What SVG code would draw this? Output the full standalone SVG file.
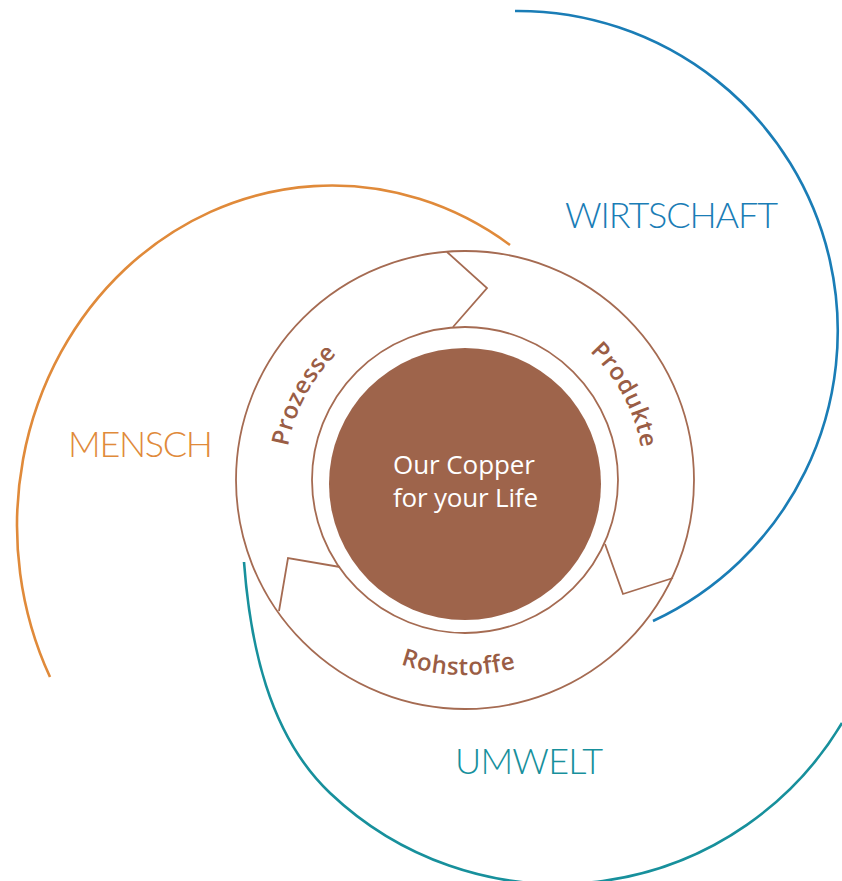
<svg xmlns="http://www.w3.org/2000/svg" xmlns:xlink="http://www.w3.org/1999/xlink" width="842" height="881" viewBox="0 0 842 881">
  <style>
    .arc { fill: none; stroke-width: 2.6; stroke-linecap: butt; }
    .ringline { fill: none; stroke: #a56b52; stroke-width: 1.8; stroke-linejoin: miter; }
    .big { font-family: Lato, "Open Sans", "Liberation Sans", sans-serif; font-weight: 300; font-size: 36px; }
    .ringlabel { font-family: "Open Sans", "Liberation Sans", sans-serif; font-weight: 600; font-size: 24px; letter-spacing: 0.6px; fill: #9a5d45; }
    .core { font-family: "Open Sans", "Liberation Sans", sans-serif; font-size: 26px; fill: #ffffff; }
  </style>
  <defs>
    <path id="pProzesse" d="M313.2,576.9 A179,179 0 0 1 458.8,301.1"/>
    <path id="pProdukte" d="M471.2,301.1 A179,179 0 0 1 616.8,574.9"/>
    <path id="pRohstoffe" d="M292.8,571.5 A195,195 0 0 0 630.4,583.3"/>
  </defs>
  <rect width="842" height="881" fill="#ffffff"/>

  <g id="mensch">
    <path class="arc" stroke="#e08a3a" d="M510,245 A315,340 0 0 0 50,677"/>
    <text class="big" x="68" y="457" textLength="145" fill="#e08a3a">MENSCH</text>
  </g>

  <g id="wirtschaft">
    <path class="arc" stroke="#1a7db6" d="M515,11 A320,320 0 0 1 653,621"/>
    <text class="big" x="565" y="228" textLength="213" fill="#1a7db6">WIRTSCHAFT</text>
  </g>

  <g id="umwelt">
    <path class="arc" stroke="#17909c" d="M244,562 C250,642 268,734 330,793 A331,331 0 0 0 842,723"/>
    <text class="big" x="455" y="774" textLength="148" fill="#17909c">UMWELT</text>
  </g>

  <g id="ring">
    <circle cx="465" cy="480" r="229" fill="#ffffff" stroke="#a56b52" stroke-width="1.8"/>
    <circle cx="465" cy="480" r="153" fill="#ffffff" stroke="#a56b52" stroke-width="1.8"/>
    <g id="connectors">
      <polyline class="ringline" points="447,252 487,288 453,327"/>
      <polyline class="ringline" points="605,544 623,594 673,578"/>
      <polyline class="ringline" points="279,611 288,558 340,567"/>
    </g>
  </g>

  <g id="prozesse">
    <text class="ringlabel"><textPath xlink:href="#pProzesse" href="#pProzesse" startOffset="50%" text-anchor="middle">Prozesse</textPath></text>
  </g>
  <g id="produkte">
    <text class="ringlabel"><textPath xlink:href="#pProdukte" href="#pProdukte" startOffset="50%" text-anchor="middle">Produkte</textPath></text>
  </g>
  <g id="rohstoffe">
    <text class="ringlabel"><textPath xlink:href="#pRohstoffe" href="#pRohstoffe" startOffset="50%" text-anchor="middle">Rohstoffe</textPath></text>
  </g>

  <g id="core">
    <circle cx="465" cy="484" r="136" fill="#9e644b"/>
    <text class="core" x="393" y="474" textLength="142">Our Copper</text>
    <text class="core" x="393" y="507" textLength="145">for your Life</text>
  </g>
</svg>
